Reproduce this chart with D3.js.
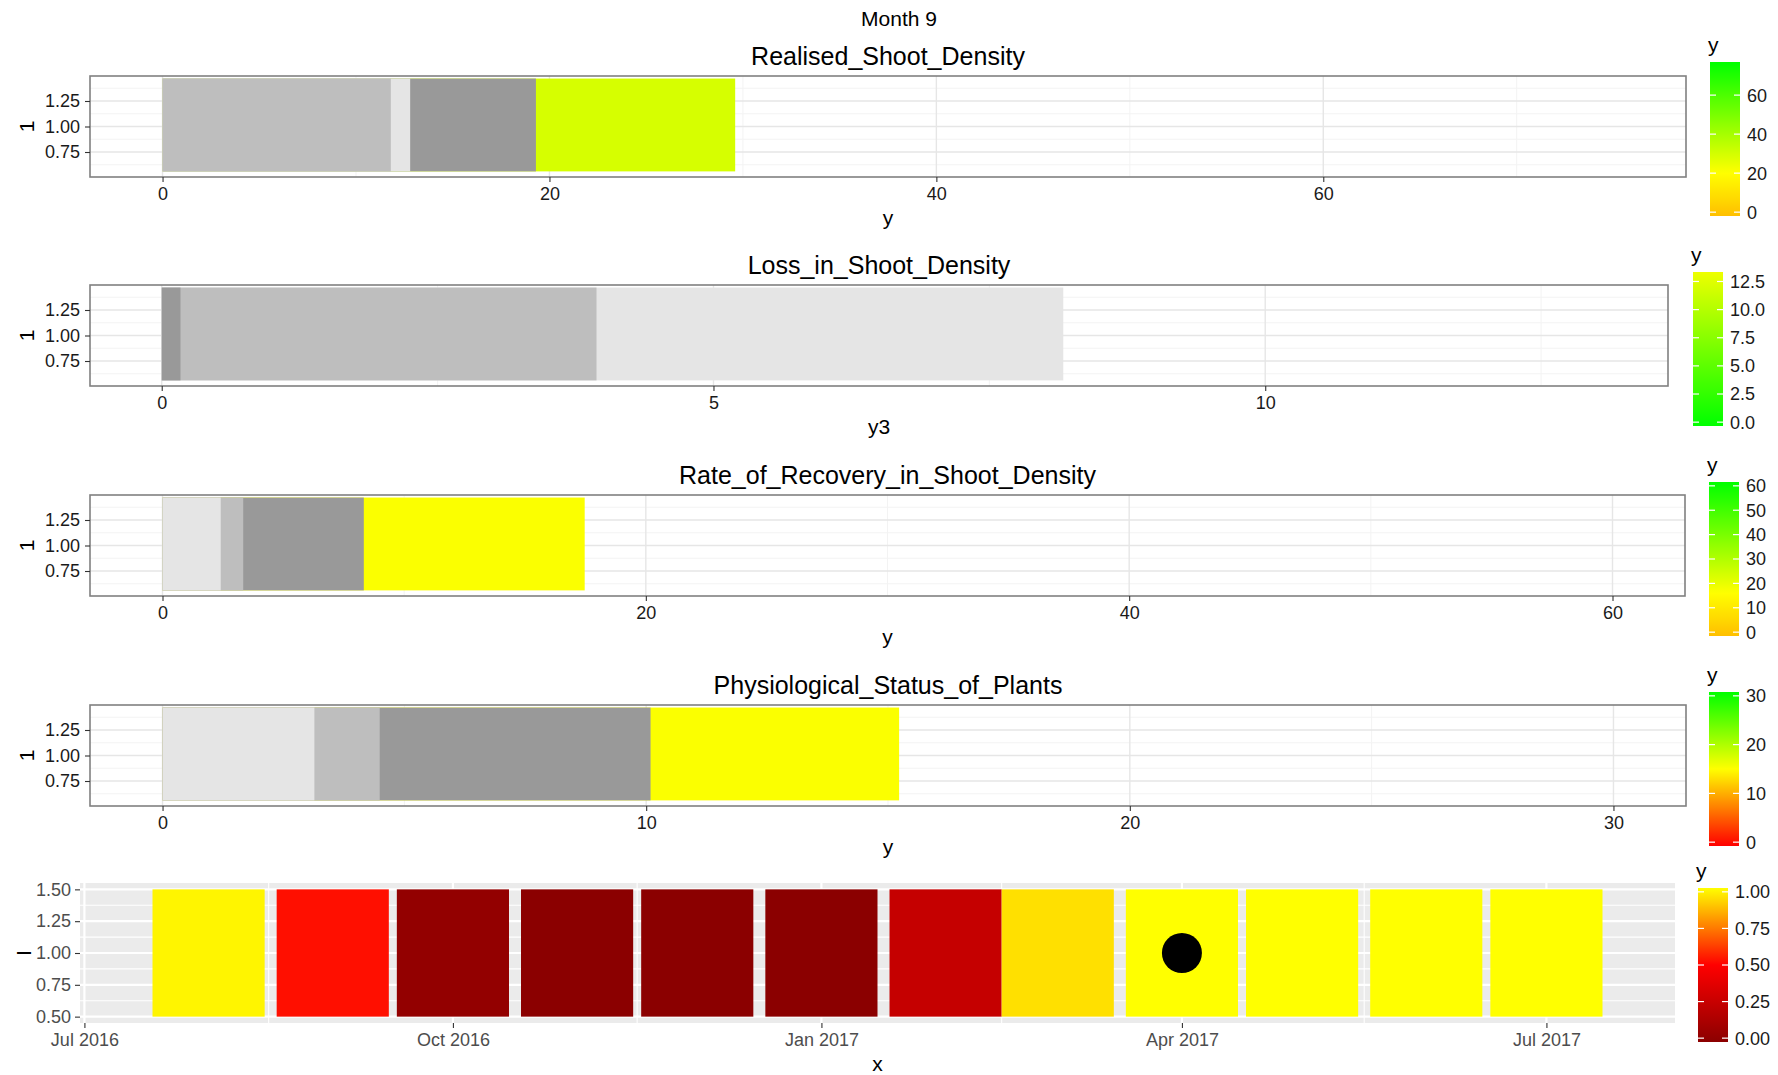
<!DOCTYPE html>
<html>
<head>
<meta charset="utf-8">
<script src="https://cdn.jsdelivr.net/npm/d3@7"></script>
<style>
  body { margin: 0; background: #ffffff; }
  svg { display: block; font-family: "Liberation Sans", Arial, sans-serif; }
</style>
</head>
<body>
<svg id="chart" width="1778" height="1075"></svg>
<script>
// ---------------- data ----------------
const pageTitle = "Month 9";
const panelTitles = [
  "Realised_Shoot_Density",
  "Loss_in_Shoot_Density",
  "Rate_of_Recovery_in_Shoot_Density",
  "Physiological_Status_of_Plants"
];
const panelAxisTitles = ["y", "y3", "y", "y"];
const rowAxisTitle = "1";

// Reference bands (each drawn from 0) and the measured value per indicator
const realisedBands = [11.8, 12.8, 19.3];
const realisedValue = 29.6;
const realisedLimits = [0, 75];

const lossBands = [0.17, 3.94, 8.17];
const lossLimits = [0, 13];

const recoveryBands = [2.41, 3.34, 8.33];
const recoveryValue = 17.47;
const recoveryLimits = [0, 60];

const physioBands = [3.14, 4.49, 10.09];
const physioValue = 15.23;
const physioLimits = [0, 30];

// Axis tick values
const realisedTicks = [0, 20, 40, 60];
const lossTicks = [0, 5, 10];
const recoveryTicks = [0, 20, 40, 60];
const physioTicks = [0, 10, 20, 30];
const rowTicks = [0.75, 1.00, 1.25];

// Colour-bar tick values
const realisedLegendTicks = [0, 20, 40, 60];
const lossLegendTicks = [0, 2.5, 5, 7.5, 10, 12.5];
const recoveryLegendTicks = [0, 10, 20, 30, 40, 50, 60];
const physioLegendTicks = [0, 10, 20, 30];

// Monthly status timeline
const monthStarts = [
  "2016-08-01", "2016-09-01", "2016-10-01", "2016-11-01", "2016-12-01", "2017-01-01",
  "2017-02-01", "2017-03-01", "2017-04-01", "2017-05-01", "2017-06-01", "2017-07-01"
];
const monthStatus = [0.98, 0.53, 0.035, 0.0, 0.0, 0.0, 0.25, 0.94, 1.0, 1.0, 1.0, 1.0];
const currentMonth = "2017-04-01";
const statusDateTicks = ["2016-07-01", "2016-10-01", "2017-01-01", "2017-04-01", "2017-07-01"];
const statusTicks = [0.50, 0.75, 1.00, 1.25, 1.50];
const statusLegendTicks = [0, 0.25, 0.5, 0.75, 1];
const statusLimits = [0, 1];
const statusAxisTitle = "x";
const statusRowTitle = "I";

// ---------------- styles ----------------
const realisedBandFills = ["#BEBEBE", "#E5E5E5", "#999999"];
const lossBandFills = ["#999999", "#BEBEBE", "#E5E5E5"];
const recoveryBandFills = ["#E5E5E5", "#BEBEBE", "#999999"];
const physioBandFills = ["#E5E5E5", "#BEBEBE", "#999999"];

const growthColours = ["#FFBF00", "#FFFF00", "#00FF00"];
const lossColours = ["#00FF00", "#EEFF00"];
const physioColours = ["#FF0000", "#FFFF00", "#00FF00"];
const statusColours = ["#8B0000", "#FF0000", "#FFFF00"];

const svg = d3.select("#chart");
const parseDate = d3.timeParse("%Y-%m-%d");
const FONT_TICK = 18, FONT_AXIS = 21, FONT_TITLE = 25;

// colour scales
function growthScale(lim) {
  return d3.scaleLinear()
    .domain([lim[0], lim[0] + 0.28 * (lim[1] - lim[0]), lim[1]])
    .range(growthColours).clamp(true);
}
const realisedColour = growthScale(realisedLimits);
const recoveryColour = growthScale(recoveryLimits);
const lossColour = d3.scaleLinear().domain(lossLimits).range(lossColours).clamp(true);
const physioColour = d3.scaleLinear()
  .domain([physioLimits[0], (physioLimits[0] + physioLimits[1]) / 2, physioLimits[1]])
  .range(physioColours).clamp(true);
const statusColour = d3.scaleLinear()
  .domain([statusLimits[0], (statusLimits[0] + statusLimits[1]) / 2, statusLimits[1]])
  .range(statusColours).clamp(true);

// ---------------- panels ----------------
const panels = [
  { title: panelTitles[0], axisTitle: panelAxisTitles[0], bands: realisedBands, fills: realisedBandFills,
    value: realisedValue, limits: realisedLimits, ticks: realisedTicks, colour: realisedColour,
    legendTicks: realisedLegendTicks, legendFmt: d3.format("d"),
    box: { left: 90, right: 1686, top: 76, bottom: 177 }, legend: { x: 1710, top: 62 } },
  { title: panelTitles[1], axisTitle: panelAxisTitles[1], bands: lossBands, fills: lossBandFills,
    value: null, limits: lossLimits, ticks: lossTicks, colour: lossColour,
    legendTicks: lossLegendTicks, legendFmt: d3.format(".1f"),
    box: { left: 90, right: 1668, top: 285, bottom: 386 }, legend: { x: 1693, top: 272 } },
  { title: panelTitles[2], axisTitle: panelAxisTitles[2], bands: recoveryBands, fills: recoveryBandFills,
    value: recoveryValue, limits: recoveryLimits, ticks: recoveryTicks, colour: recoveryColour,
    legendTicks: recoveryLegendTicks, legendFmt: d3.format("d"),
    box: { left: 90, right: 1685, top: 495, bottom: 596 }, legend: { x: 1709, top: 482 } },
  { title: panelTitles[3], axisTitle: panelAxisTitles[3], bands: physioBands, fills: physioBandFills,
    value: physioValue, limits: physioLimits, ticks: physioTicks, colour: physioColour,
    legendTicks: physioLegendTicks, legendFmt: d3.format("d"),
    box: { left: 90, right: 1686, top: 705, bottom: 806 }, legend: { x: 1709, top: 692 } }
];

// ggplot-style 5% expansion of a range
function expand(lo, hi) {
  const pad = 0.05 * (hi - lo);
  return [lo - pad, hi + pad];
}
// midpoints between regular ticks, extended one step beyond the ends
function minorBreaks(ticks, domain) {
  const step = ticks[1] - ticks[0];
  const out = [];
  for (let v = ticks[0] - step / 2; v <= domain[1]; v += step) {
    if (v >= domain[0]) out.push(v);
  }
  return out;
}

function styleAxis(sel, colour) {
  sel.select(".domain").remove();
  sel.selectAll(".tick line").attr("stroke", "#333333").attr("stroke-width", 1.1);
  sel.selectAll(".tick text").attr("fill", colour).attr("font-size", FONT_TICK)
    .attr("font-family", "Liberation Sans, Arial, sans-serif");
}

function drawColourbar(cfg) {
  const w = 30, h = 154, nbin = 20;
  const x0 = cfg.x, y0 = cfg.top, lo = cfg.limits[0], hi = cfg.limits[1];
  const gid = "grad" + cfg.id;
  const grad = svg.append("defs").append("linearGradient")
    .attr("id", gid).attr("x1", 0).attr("y1", 1).attr("x2", 0).attr("y2", 0);
  d3.range(0, 41).forEach(i => {
    const t = i / 40;
    grad.append("stop").attr("offset", t).attr("stop-color", cfg.colour(lo + t * (hi - lo)));
  });
  svg.append("rect").attr("x", x0).attr("y", y0).attr("width", w).attr("height", h)
    .attr("fill", `url(#${gid})`);
  const pos = d3.scaleLinear().domain([lo, hi])
    .range([y0 + h - h * 0.5 / nbin, y0 + h * 0.5 / nbin]);
  const g = svg.append("g");
  cfg.ticks.forEach(v => {
    const y = pos(v);
    g.append("line").attr("x1", x0).attr("x2", x0 + w / 5).attr("y1", y).attr("y2", y)
      .attr("stroke", "#ffffff").attr("stroke-width", 1.2);
    g.append("line").attr("x1", x0 + w - w / 5).attr("x2", x0 + w).attr("y1", y).attr("y2", y)
      .attr("stroke", "#ffffff").attr("stroke-width", 1.2);
    g.append("text").attr("x", x0 + w + 7).attr("y", y).attr("dy", "0.36em")
      .attr("font-size", FONT_TICK).attr("fill", "#1a1a1a").text(cfg.fmt(v));
  });
  svg.append("text").attr("x", x0 - 2).attr("y", y0 - 10)
    .attr("font-size", FONT_AXIS).attr("fill", "#000").text("y");
}

// page title
svg.append("text").attr("x", 899).attr("y", 26).attr("text-anchor", "middle")
  .attr("font-size", 21).attr("fill", "#000").text(pageTitle);

const barRow = [0.56, 1.47];

panels.forEach((p, i) => {
  const b = p.box;
  const xDom = expand(p.limits[0], p.limits[1]);
  const yDom = [0.505, 1.495];
  const x = d3.scaleLinear().domain(xDom).range([b.left, b.right]);
  const y = d3.scaleLinear().domain(yDom).range([b.bottom, b.top]);
  const g = svg.append("g");

  // panel background and grid
  g.append("rect").attr("x", b.left).attr("y", b.top)
    .attr("width", b.right - b.left).attr("height", b.bottom - b.top).attr("fill", "#ffffff");
  minorBreaks(p.ticks, xDom).forEach(v => {
    g.append("line").attr("x1", x(v)).attr("x2", x(v)).attr("y1", b.top).attr("y2", b.bottom)
      .attr("stroke", "#F3F3F3").attr("stroke-width", 1);
  });
  minorBreaks(rowTicks, yDom).forEach(v => {
    g.append("line").attr("x1", b.left).attr("x2", b.right).attr("y1", y(v)).attr("y2", y(v))
      .attr("stroke", "#F3F3F3").attr("stroke-width", 1);
  });
  p.ticks.forEach(v => {
    g.append("line").attr("x1", x(v)).attr("x2", x(v)).attr("y1", b.top).attr("y2", b.bottom)
      .attr("stroke", "#E6E6E6").attr("stroke-width", 1.4);
  });
  rowTicks.forEach(v => {
    g.append("line").attr("x1", b.left).attr("x2", b.right).attr("y1", y(v)).attr("y2", y(v))
      .attr("stroke", "#E6E6E6").attr("stroke-width", 1.4);
  });

  // overlaid bars from 0, longest first
  const bars = p.bands.map((v, k) => ({ v, fill: p.fills[k] }));
  if (p.value !== null) bars.push({ v: p.value, fill: p.colour(p.value) });
  bars.sort((a, c) => c.v - a.v);
  g.selectAll("rect.bar").data(bars).enter().append("rect").attr("class", "bar")
    .attr("x", x(0)).attr("y", y(barRow[1]))
    .attr("width", d => x(d.v) - x(0))
    .attr("height", y(barRow[0]) - y(barRow[1]))
    .attr("fill", d => d.fill);

  // border
  g.append("rect").attr("x", b.left).attr("y", b.top)
    .attr("width", b.right - b.left).attr("height", b.bottom - b.top)
    .attr("fill", "none").attr("stroke", "#808080").attr("stroke-width", 1.6);

  // axes
  const ax = g.append("g").attr("transform", `translate(0,${b.bottom})`)
    .call(d3.axisBottom(x).tickValues(p.ticks).tickFormat(d3.format("d")).tickSize(5).tickPadding(5));
  styleAxis(ax, "#1a1a1a");
  const ay = g.append("g").attr("transform", `translate(${b.left},0)`)
    .call(d3.axisLeft(y).tickValues(rowTicks).tickFormat(d3.format(".2f")).tickSize(5).tickPadding(5));
  styleAxis(ay, "#1a1a1a");

  // titles
  const cx = (b.left + b.right) / 2;
  g.append("text").attr("x", cx).attr("y", b.top - 11).attr("text-anchor", "middle")
    .attr("font-size", FONT_TITLE).attr("fill", "#000").text(p.title);
  g.append("text").attr("x", cx).attr("y", b.bottom + 48).attr("text-anchor", "middle")
    .attr("font-size", FONT_AXIS).attr("fill", "#000").text(p.axisTitle);
  g.append("text").attr("transform", `translate(34,${(b.top + b.bottom) / 2}) rotate(-90)`)
    .attr("text-anchor", "middle").attr("font-size", FONT_AXIS).attr("fill", "#000").text(rowAxisTitle);

  drawColourbar({ id: i, x: p.legend.x, top: p.legend.top, limits: p.limits,
    colour: p.colour, ticks: p.legendTicks, fmt: p.legendFmt });
});

// ---------------- monthly status timeline ----------------
(function () {
  const b = { left: 80, right: 1675, top: 883, bottom: 1023 };
  const halfWidth = 14; // days either side of the month start
  const dates = monthStarts.map(parseDate);
  const first = d3.timeDay.offset(dates[0], -halfWidth);
  const last = d3.timeDay.offset(dates[dates.length - 1], halfWidth);
  const pad = 0.05 * (last - first);
  const x = d3.scaleTime().domain([new Date(+first - pad), new Date(+last + pad)]).range([b.left, b.right]);
  const yDom = [0.45, 1.55];
  const y = d3.scaleLinear().domain(yDom).range([b.bottom, b.top]);
  const g = svg.append("g");

  g.append("rect").attr("x", b.left).attr("y", b.top)
    .attr("width", b.right - b.left).attr("height", b.bottom - b.top).attr("fill", "#EBEBEB");

  const majorDates = statusDateTicks.map(parseDate);
  const minorDates = d3.pairs(majorDates).map(([a, c]) => new Date((+a + +c) / 2));
  minorDates.forEach(d => {
    g.append("line").attr("x1", x(d)).attr("x2", x(d)).attr("y1", b.top).attr("y2", b.bottom)
      .attr("stroke", "#ffffff").attr("stroke-width", 1.1);
  });
  minorBreaks(statusTicks, yDom).forEach(v => {
    g.append("line").attr("x1", b.left).attr("x2", b.right).attr("y1", y(v)).attr("y2", y(v))
      .attr("stroke", "#ffffff").attr("stroke-width", 1.1);
  });
  majorDates.forEach(d => {
    g.append("line").attr("x1", x(d)).attr("x2", x(d)).attr("y1", b.top).attr("y2", b.bottom)
      .attr("stroke", "#ffffff").attr("stroke-width", 2.2);
  });
  statusTicks.forEach(v => {
    g.append("line").attr("x1", b.left).attr("x2", b.right).attr("y1", y(v)).attr("y2", y(v))
      .attr("stroke", "#ffffff").attr("stroke-width", 2.2);
  });

  const tiles = dates.map((d, k) => ({ d, v: monthStatus[k] }));
  g.selectAll("rect.tile").data(tiles).enter().append("rect").attr("class", "tile")
    .attr("x", t => x(d3.timeDay.offset(t.d, -halfWidth)))
    .attr("width", t => x(d3.timeDay.offset(t.d, halfWidth)) - x(d3.timeDay.offset(t.d, -halfWidth)))
    .attr("y", y(1.5)).attr("height", y(0.5) - y(1.5))
    .attr("fill", t => statusColour(t.v));

  g.append("circle").attr("cx", x(parseDate(currentMonth))).attr("cy", y(1)).attr("r", 20).attr("fill", "#000");

  const ax = g.append("g").attr("transform", `translate(0,${b.bottom})`)
    .call(d3.axisBottom(x).tickValues(majorDates).tickFormat(d3.timeFormat("%b %Y")).tickSize(5).tickPadding(5));
  styleAxis(ax, "#4D4D4D");
  const ay = g.append("g").attr("transform", `translate(${b.left},0)`)
    .call(d3.axisLeft(y).tickValues(statusTicks).tickFormat(d3.format(".2f")).tickSize(5).tickPadding(4));
  styleAxis(ay, "#4D4D4D");

  g.append("text").attr("x", (b.left + b.right) / 2).attr("y", b.bottom + 48).attr("text-anchor", "middle")
    .attr("font-size", FONT_AXIS).attr("fill", "#000").text(statusAxisTitle);
  g.append("text").attr("transform", `translate(31,${(b.top + b.bottom) / 2}) rotate(-90)`)
    .attr("text-anchor", "middle").attr("font-size", FONT_AXIS).attr("fill", "#000").text(statusRowTitle);

  drawColourbar({ id: "status", x: 1698, top: 888, limits: statusLimits, colour: statusColour,
    ticks: statusLegendTicks, fmt: d3.format(".2f") });
})();
</script>
</body>
</html>
